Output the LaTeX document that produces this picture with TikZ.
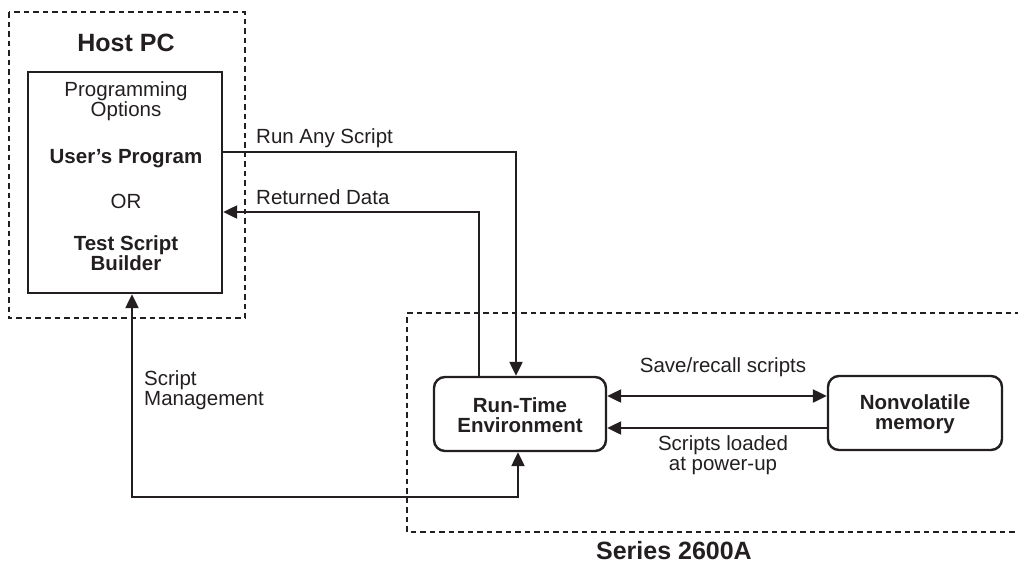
\documentclass[tikz,border=0pt]{standalone}
\usepackage{fontspec}
\setmainfont{Liberation Sans}
\usetikzlibrary{arrows.meta}
\definecolor{ink}{HTML}{231F20}
\tikzset{
  x=1pt, y=-1pt,
  dashbox/.style={draw=ink, line width=2.1pt, dash pattern=on 5.5pt off 4pt},
  solidbox/.style={draw=ink, line width=2.4pt, inner sep=0pt},
  roundbox/.style={solidbox, rounded corners=11pt},
  conn/.style={draw=ink, line width=2.3pt},
  tip/.tip={Triangle[length=14pt,width=13pt]},
  arr/.style={conn, -tip},
  arrs/.style={conn, tip-tip},
  txt/.style={font=\fontsize{20.5}{20}\selectfont, text=ink, inner sep=0pt, align=center},
  btxt/.style={txt, font=\fontsize{20.5}{20}\selectfont\bfseries},
  title/.style={txt, font=\fontsize{25}{25}\selectfont\bfseries},
}
\begin{document}
\begin{tikzpicture}
\useasboundingbox (0,0) rectangle (1018,566);
% Host PC dashed frame
\draw[dashbox] (9,12) rectangle (245,318);
\node[title] (hosttitle) at (126,43) {Host PC};
% Programming options box
\node[solidbox, minimum width=194pt, minimum height=221pt] (prog) at (125,182.5) {};
\node[txt] (progopt) at (126,101) {Programming\\Options};
\node[btxt] (userprog) at (126,159) {User’s Program};
\node[txt] (or) at (126,201) {OR};
\node[btxt] (tsb) at (126,253) {Test Script\\Builder};
% Series 2600A dashed frame (open at right)
\draw[dashbox] (1030,313) -- (407,313) -- (407,532) -- (1030,532);
\node[title] (series) at (674,551) {Series 2600A};
% Run-time environment and nonvolatile memory
\node[roundbox, minimum width=172pt, minimum height=74pt] (rte) at (520,414) {};
\node[btxt] (rtetext) at (520,415) {Run-Time\\Environment};
\node[roundbox, minimum width=174pt, minimum height=74pt] (nvm) at (915,413) {};
\node[btxt] (nvmtext) at (915,414) {Nonvolatile\\memory};
% helper coordinates
\coordinate (yrun) at (0,152);
\coordinate (yret) at (0,212);
\coordinate (ybot) at (0,497);
\coordinate (xrun) at (516,0);
\coordinate (xret) at (479,0);
\coordinate (xsm) at (132,0);
\coordinate (xsmr) at (518,0);
\coordinate (ysave) at (0,396);
\coordinate (yload) at (0,428);
% connectors
\draw[arr] (prog.east |- yrun) -| (rte.north -| xrun);
\draw[arr] (rte.north -| xret) |- (prog.east |- yret);
\draw[arrs] (prog.south -| xsm) |- (ybot -| xsmr) -- (rte.south -| xsmr);
\draw[arrs] (rte.east |- ysave) -- (nvm.west |- ysave);
\draw[arr] (nvm.west |- yload) -- (rte.east |- yload);
% labels
\node[txt, anchor=west] (lrun) at (256,138) {Run Any Script};
\node[txt, anchor=west] (lret) at (256,197) {Returned Data};
\node[txt, anchor=west, align=left] (lsm) at (144,390) {Script\\Management};
\node[txt] (lsave) at (723,367) {Save/recall scripts};
\node[txt] (lload) at (723,455) {Scripts loaded\\at power-up};
\end{tikzpicture}
\end{document}
